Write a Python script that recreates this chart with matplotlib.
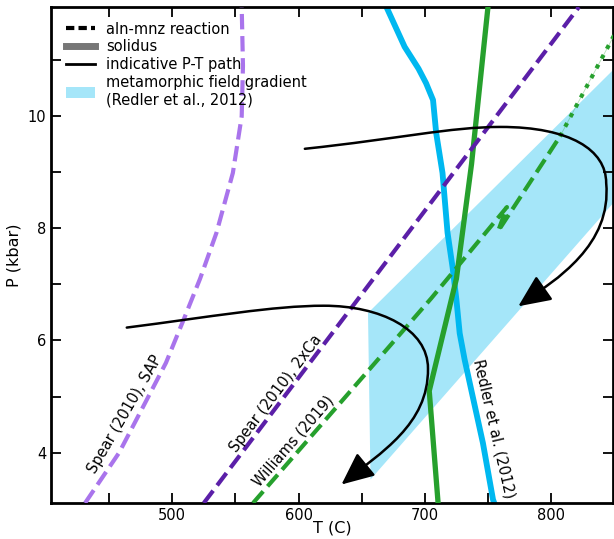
import numpy as np
import matplotlib
matplotlib.use("Agg")
import matplotlib.pyplot as plt
from matplotlib.path import Path
from matplotlib.patches import FancyArrowPatch, Polygon, Patch
from matplotlib.lines import Line2D
from matplotlib.ticker import MultipleLocator

# --- reaction curves (T in C, P in kbar) ---
sap_T = [431, 458, 480, 495, 509, 522, 535, 548, 555, 556, 555]
sap_P = [3.1, 4.0, 4.95, 5.6, 6.37, 7.1, 7.92, 8.99, 10.0, 10.9, 11.95]

ca2_T = [525, 822]
ca2_P = [3.1, 11.95]

williams_T = [564, 705, 765, 758, 807]
williams_P = [3.1, 6.75, 8.38, 7.95, 9.64]
williams_ext_T = [807, 850]
williams_ext_P = [9.64, 11.45]

# --- solidus curves ---
redler_sol_T = [669.6, 684, 695, 701, 706.5, 709, 714, 718, 722, 725, 727.6, 731.5, 746, 754, 755]
redler_sol_P = [11.95, 11.24, 10.85, 10.59, 10.29, 9.70, 8.99, 7.92, 7.3, 6.73, 6.13, 5.66, 4.17, 3.16, 3.1]

solidus_T = [710.5, 703.5, 725, 737, 750]
solidus_P = [3.1, 5.1, 7.1, 9.15, 11.95]

# --- metamorphic field gradient band ---
field_T = [655, 657, 860, 860]
field_P = [6.49, 3.52, 8.73, 11.07]

# --- indicative P-T paths (cubic Bezier control points) ---
path1_T = [605, 680, 720, 760, 815, 843.6, 843.6, 848, 805, 774]
path1_P = [9.42, 9.6, 9.81, 9.81, 9.81, 9.4, 8.81, 7.7, 7.1, 6.61]
path2_T = [464, 530, 580, 620, 665, 702.5, 702.5, 703, 665, 634]
path2_P = [6.23, 6.42, 6.62, 6.62, 6.62, 6.2, 5.5, 4.5, 4.0, 3.43]

# --- curve labels ---
labels = ["Spear (2010), SAP", "Spear (2010), 2xCa", "Williams (2019)", "Redler et al. (2012)"]
label_T = [462.5, 582.0, 595.7, 754.5]
label_P = [4.68, 5.06, 4.20, 4.43]
label_rot = [60, 53, 49, -77]

c_sap = "#a974ec"
c_ca = "#5b1fa8"
c_green = "#26a02d"
c_blue = "#00b8f0"
c_field = "#a5e6f9"

fig = plt.figure(figsize=(6.14, 5.39), dpi=100)
ax = fig.add_axes([51 / 614, 36 / 539, 562 / 614, 496 / 539])

ax.add_patch(Polygon(np.column_stack([field_T, field_P]), closed=True,
                     facecolor=c_field, edgecolor="none", zorder=1))

ax.plot(redler_sol_T, redler_sol_P, color=c_blue, lw=4.2, zorder=2,
        solid_joinstyle="round")
ax.plot(solidus_T, solidus_P, color=c_green, lw=3.8, zorder=3)

ax.plot(sap_T, sap_P, color=c_sap, lw=3, ls="--", zorder=3)
ax.plot(ca2_T, ca2_P, color=c_ca, lw=3, ls="--", zorder=3)
ax.plot(williams_T, williams_P, color=c_green, lw=3, ls="--", zorder=3)
ax.plot(williams_ext_T, williams_ext_P, color=c_green, lw=0.6, alpha=0.35, zorder=3)
ax.plot(williams_ext_T, williams_ext_P, color=c_green, lw=3, ls=":", zorder=3)

codes = [Path.MOVETO] + [Path.CURVE4] * 9
for pT, pP in [(path1_T, path1_P), (path2_T, path2_P)]:
    pth = Path(np.column_stack([pT, pP]), codes)
    arr = FancyArrowPatch(path=pth,
                          arrowstyle="-|>,head_length=1.0,head_width=0.45",
                          mutation_scale=20, lw=1.8, color="black", zorder=4)
    ax.add_patch(arr)

for s, t, p, r in zip(labels, label_T, label_P, label_rot):
    ax.text(t, p, s, rotation=r, rotation_mode="anchor", ha="center",
            va="center", fontsize=10.5, zorder=5)

ax.set_xlim(404, 849)
ax.set_ylim(3.1, 11.95)
ax.xaxis.set_major_locator(MultipleLocator(100))
ax.xaxis.set_minor_locator(MultipleLocator(50))
ax.yaxis.set_major_locator(MultipleLocator(2))
ax.yaxis.set_minor_locator(MultipleLocator(1))
ax.tick_params(which="both", direction="in", top=True, right=True,
               length=7, width=1.3, labelsize=10.5)
for sp in ax.spines.values():
    sp.set_linewidth(2)

ax.set_xlabel("T (C)", fontsize=11.5, labelpad=-2)
ax.set_ylabel("P (kbar)", fontsize=11.5)

handles = [
    Line2D([], [], color="black", lw=3, ls=(0, (2, 1))),
    Line2D([], [], color="#777777", lw=5),
    Line2D([], [], color="black", lw=2),
    Patch(facecolor=c_field, edgecolor="none"),
]
leg_labels = ["aln-mnz reaction", "solidus", "indicative P-T path",
              "metamorphic field gradient\n(Redler et al., 2012)"]
ax.legend(handles, leg_labels, loc="upper left", frameon=False,
          fontsize=10.5, labelspacing=0.2, handlelength=2.0,
          borderaxespad=0.6)

fig.savefig("out.png", dpi=100)
